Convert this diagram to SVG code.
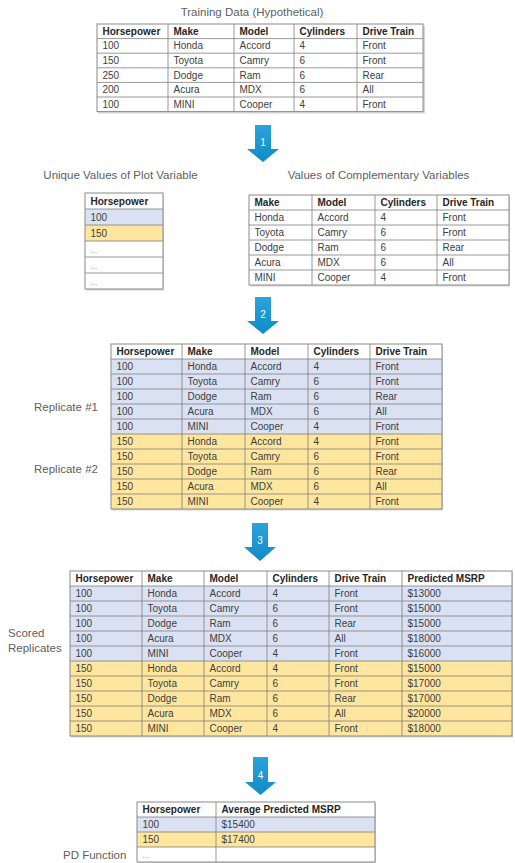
<svg xmlns="http://www.w3.org/2000/svg" width="515" height="863" viewBox="0 0 515 863">
<defs>
<linearGradient id="ag" x1="0" y1="0" x2="0" y2="1">
<stop offset="0" stop-color="#2ba3db"/>
<stop offset="1" stop-color="#0f8bc6"/>
</linearGradient>
</defs>
<style>
text{font-family:"Liberation Sans",Arial,sans-serif}
.t{font-size:11.5px;fill:#606060}
.h{font-size:10px;font-weight:bold;fill:#262626}
.c{font-size:10px;fill:#404040}
.d{font-size:8px;fill:#808080}
.n{font-size:10px;fill:#ffffff;text-anchor:middle}
.bl{fill:#d9e1f2}
.ye{fill:#fee69e}
.wh{fill:#ffffff}
.g{stroke:#7f7f7f;stroke-width:0.8;fill:none}
.o{stroke:#8a8a8a;stroke-width:1;fill:none}
.sh{fill:#d4d4d4}
.ar{fill:url(#ag)}
</style>
<rect width="515" height="863" fill="#ffffff"/>

<g id="training-data">
<text class="t" x="252" y="16" text-anchor="middle">Training Data (Hypothetical)</text>
<rect class="sh" x="98" y="25.5" width="327" height="88"/>
<rect class="wh" x="97" y="24" width="326" height="87.6"/>
<path class="g" d="M97 38.6H423M97 53.2H423M97 67.8H423M97 82.4H423M97 97H423M168 24V111.6M234 24V111.6M294 24V111.6M357 24V111.6"/>
<rect class="o" x="97" y="24" width="326" height="87.6"/>
<text class="h" x="102.5" y="34.8">Horsepower</text><text class="h" x="173.5" y="34.8">Make</text><text class="h" x="239.5" y="34.8">Model</text><text class="h" x="299.5" y="34.8">Cylinders</text><text class="h" x="362.5" y="34.8">Drive Train</text>
<text class="c" x="102.5" y="49.4">100</text><text class="c" x="173.5" y="49.4">Honda</text><text class="c" x="239.5" y="49.4">Accord</text><text class="c" x="299.5" y="49.4">4</text><text class="c" x="362.5" y="49.4">Front</text>
<text class="c" x="102.5" y="64">150</text><text class="c" x="173.5" y="64">Toyota</text><text class="c" x="239.5" y="64">Camry</text><text class="c" x="299.5" y="64">6</text><text class="c" x="362.5" y="64">Front</text>
<text class="c" x="102.5" y="78.6">250</text><text class="c" x="173.5" y="78.6">Dodge</text><text class="c" x="239.5" y="78.6">Ram</text><text class="c" x="299.5" y="78.6">6</text><text class="c" x="362.5" y="78.6">Rear</text>
<text class="c" x="102.5" y="93.2">200</text><text class="c" x="173.5" y="93.2">Acura</text><text class="c" x="239.5" y="93.2">MDX</text><text class="c" x="299.5" y="93.2">6</text><text class="c" x="362.5" y="93.2">All</text>
<text class="c" x="102.5" y="107.8">100</text><text class="c" x="173.5" y="107.8">MINI</text><text class="c" x="239.5" y="107.8">Cooper</text><text class="c" x="299.5" y="107.8">4</text><text class="c" x="362.5" y="107.8">Front</text>
</g>

<g id="unique-values">
<text class="t" x="120.5" y="179" text-anchor="middle">Unique Values of Plot Variable</text>
<rect class="sh" x="86" y="194.5" width="78" height="96"/>
<rect class="wh" x="85" y="193" width="78" height="96"/>
<rect class="bl" x="85" y="209" width="78" height="16"/>
<rect class="ye" x="85" y="225" width="78" height="16"/>
<path class="g" d="M85 209H163M85 225H163M85 241H163M85 257H163M85 273H163"/>
<rect class="o" x="85" y="193" width="78" height="96"/>
<text class="h" x="90.5" y="204.5">Horsepower</text>
<text class="c" x="90.5" y="220.5">100</text>
<text class="c" x="90.5" y="236.5">150</text>
<text class="d" x="90.5" y="252.5">...</text>
<text class="d" x="90.5" y="268.5">...</text>
<text class="d" x="90.5" y="284.5">...</text>
</g>

<g id="complementary-values">
<text class="t" x="378.5" y="179" text-anchor="middle">Values of Complementary Variables</text>
<rect class="sh" x="250" y="196.5" width="260" height="90"/>
<rect class="wh" x="249" y="195" width="260" height="90"/>
<path class="g" d="M249 210H509M249 225H509M249 240H509M249 255H509M249 270H509M312 195V285M375 195V285M437 195V285"/>
<rect class="o" x="249" y="195" width="260" height="90"/>
<text class="h" x="254.5" y="206">Make</text><text class="h" x="317.5" y="206">Model</text><text class="h" x="380.5" y="206">Cylinders</text><text class="h" x="442.5" y="206">Drive Train</text>
<text class="c" x="254.5" y="221">Honda</text><text class="c" x="317.5" y="221">Accord</text><text class="c" x="380.5" y="221">4</text><text class="c" x="442.5" y="221">Front</text>
<text class="c" x="254.5" y="236">Toyota</text><text class="c" x="317.5" y="236">Camry</text><text class="c" x="380.5" y="236">6</text><text class="c" x="442.5" y="236">Front</text>
<text class="c" x="254.5" y="251">Dodge</text><text class="c" x="317.5" y="251">Ram</text><text class="c" x="380.5" y="251">6</text><text class="c" x="442.5" y="251">Rear</text>
<text class="c" x="254.5" y="266">Acura</text><text class="c" x="317.5" y="266">MDX</text><text class="c" x="380.5" y="266">6</text><text class="c" x="442.5" y="266">All</text>
<text class="c" x="254.5" y="281">MINI</text><text class="c" x="317.5" y="281">Cooper</text><text class="c" x="380.5" y="281">4</text><text class="c" x="442.5" y="281">Front</text>
</g>

<g id="replicates">
<text class="t" x="34" y="410.5">Replicate #1</text>
<text class="t" x="34" y="473">Replicate #2</text>
<rect class="sh" x="112" y="345.5" width="331" height="165"/>
<rect class="wh" x="111" y="344" width="331" height="15"/>
<rect class="bl" x="111" y="359" width="331" height="75"/>
<rect class="ye" x="111" y="434" width="331" height="75"/>
<path class="g" d="M111 359H442M111 374H442M111 389H442M111 404H442M111 419H442M111 434H442M111 449H442M111 464H442M111 479H442M111 494H442M182 344V509M245 344V509M308 344V509M370 344V509"/>
<rect class="o" x="111" y="344" width="331" height="165"/>
<text class="h" x="116.5" y="355">Horsepower</text><text class="h" x="187.5" y="355">Make</text><text class="h" x="250.5" y="355">Model</text><text class="h" x="313.5" y="355">Cylinders</text><text class="h" x="375.5" y="355">Drive Train</text>
<text class="c" x="116.5" y="370">100</text><text class="c" x="187.5" y="370">Honda</text><text class="c" x="250.5" y="370">Accord</text><text class="c" x="313.5" y="370">4</text><text class="c" x="375.5" y="370">Front</text>
<text class="c" x="116.5" y="385">100</text><text class="c" x="187.5" y="385">Toyota</text><text class="c" x="250.5" y="385">Camry</text><text class="c" x="313.5" y="385">6</text><text class="c" x="375.5" y="385">Front</text>
<text class="c" x="116.5" y="400">100</text><text class="c" x="187.5" y="400">Dodge</text><text class="c" x="250.5" y="400">Ram</text><text class="c" x="313.5" y="400">6</text><text class="c" x="375.5" y="400">Rear</text>
<text class="c" x="116.5" y="415">100</text><text class="c" x="187.5" y="415">Acura</text><text class="c" x="250.5" y="415">MDX</text><text class="c" x="313.5" y="415">6</text><text class="c" x="375.5" y="415">All</text>
<text class="c" x="116.5" y="430">100</text><text class="c" x="187.5" y="430">MINI</text><text class="c" x="250.5" y="430">Cooper</text><text class="c" x="313.5" y="430">4</text><text class="c" x="375.5" y="430">Front</text>
<text class="c" x="116.5" y="445">150</text><text class="c" x="187.5" y="445">Honda</text><text class="c" x="250.5" y="445">Accord</text><text class="c" x="313.5" y="445">4</text><text class="c" x="375.5" y="445">Front</text>
<text class="c" x="116.5" y="460">150</text><text class="c" x="187.5" y="460">Toyota</text><text class="c" x="250.5" y="460">Camry</text><text class="c" x="313.5" y="460">6</text><text class="c" x="375.5" y="460">Front</text>
<text class="c" x="116.5" y="475">150</text><text class="c" x="187.5" y="475">Dodge</text><text class="c" x="250.5" y="475">Ram</text><text class="c" x="313.5" y="475">6</text><text class="c" x="375.5" y="475">Rear</text>
<text class="c" x="116.5" y="490">150</text><text class="c" x="187.5" y="490">Acura</text><text class="c" x="250.5" y="490">MDX</text><text class="c" x="313.5" y="490">6</text><text class="c" x="375.5" y="490">All</text>
<text class="c" x="116.5" y="505">150</text><text class="c" x="187.5" y="505">MINI</text><text class="c" x="250.5" y="505">Cooper</text><text class="c" x="313.5" y="505">4</text><text class="c" x="375.5" y="505">Front</text>
</g>

<g id="scored-replicates">
<text class="t" x="8" y="637">Scored</text>
<text class="t" x="8" y="652">Replicates</text>
<rect class="sh" x="71" y="572.5" width="442" height="165"/>
<rect class="wh" x="70" y="571" width="442" height="15"/>
<rect class="bl" x="70" y="586" width="442" height="75"/>
<rect class="ye" x="70" y="661" width="442" height="75"/>
<path class="g" d="M70 586H512M70 601H512M70 616H512M70 631H512M70 646H512M70 661H512M70 676H512M70 691H512M70 706H512M70 721H512M142 571V736M204 571V736M267 571V736M329 571V736M402 571V736"/>
<rect class="o" x="70" y="571" width="442" height="165"/>
<text class="h" x="75.5" y="582">Horsepower</text><text class="h" x="147.5" y="582">Make</text><text class="h" x="209.5" y="582">Model</text><text class="h" x="272.5" y="582">Cylinders</text><text class="h" x="334.5" y="582">Drive Train</text><text class="h" x="407.5" y="582">Predicted MSRP</text>
<text class="c" x="75.5" y="597">100</text><text class="c" x="147.5" y="597">Honda</text><text class="c" x="209.5" y="597">Accord</text><text class="c" x="272.5" y="597">4</text><text class="c" x="334.5" y="597">Front</text><text class="c" x="407.5" y="597">$13000</text>
<text class="c" x="75.5" y="612">100</text><text class="c" x="147.5" y="612">Toyota</text><text class="c" x="209.5" y="612">Camry</text><text class="c" x="272.5" y="612">6</text><text class="c" x="334.5" y="612">Front</text><text class="c" x="407.5" y="612">$15000</text>
<text class="c" x="75.5" y="627">100</text><text class="c" x="147.5" y="627">Dodge</text><text class="c" x="209.5" y="627">Ram</text><text class="c" x="272.5" y="627">6</text><text class="c" x="334.5" y="627">Rear</text><text class="c" x="407.5" y="627">$15000</text>
<text class="c" x="75.5" y="642">100</text><text class="c" x="147.5" y="642">Acura</text><text class="c" x="209.5" y="642">MDX</text><text class="c" x="272.5" y="642">6</text><text class="c" x="334.5" y="642">All</text><text class="c" x="407.5" y="642">$18000</text>
<text class="c" x="75.5" y="657">100</text><text class="c" x="147.5" y="657">MINI</text><text class="c" x="209.5" y="657">Cooper</text><text class="c" x="272.5" y="657">4</text><text class="c" x="334.5" y="657">Front</text><text class="c" x="407.5" y="657">$16000</text>
<text class="c" x="75.5" y="672">150</text><text class="c" x="147.5" y="672">Honda</text><text class="c" x="209.5" y="672">Accord</text><text class="c" x="272.5" y="672">4</text><text class="c" x="334.5" y="672">Front</text><text class="c" x="407.5" y="672">$15000</text>
<text class="c" x="75.5" y="687">150</text><text class="c" x="147.5" y="687">Toyota</text><text class="c" x="209.5" y="687">Camry</text><text class="c" x="272.5" y="687">6</text><text class="c" x="334.5" y="687">Front</text><text class="c" x="407.5" y="687">$17000</text>
<text class="c" x="75.5" y="702">150</text><text class="c" x="147.5" y="702">Dodge</text><text class="c" x="209.5" y="702">Ram</text><text class="c" x="272.5" y="702">6</text><text class="c" x="334.5" y="702">Rear</text><text class="c" x="407.5" y="702">$17000</text>
<text class="c" x="75.5" y="717">150</text><text class="c" x="147.5" y="717">Acura</text><text class="c" x="209.5" y="717">MDX</text><text class="c" x="272.5" y="717">6</text><text class="c" x="334.5" y="717">All</text><text class="c" x="407.5" y="717">$20000</text>
<text class="c" x="75.5" y="732">150</text><text class="c" x="147.5" y="732">MINI</text><text class="c" x="209.5" y="732">Cooper</text><text class="c" x="272.5" y="732">4</text><text class="c" x="334.5" y="732">Front</text><text class="c" x="407.5" y="732">$18000</text>
</g>

<g id="pd-function">
<text class="t" x="63" y="859">PD Function</text>
<rect class="sh" x="138" y="803.5" width="238" height="60"/>
<rect class="wh" x="137" y="802" width="238" height="60"/>
<rect class="bl" x="137" y="817" width="238" height="15"/>
<rect class="ye" x="137" y="832" width="238" height="15"/>
<path class="g" d="M137 817H375M137 832H375M137 847H375M216 802V862"/>
<rect class="o" x="137" y="802" width="238" height="60"/>
<text class="h" x="142.5" y="813">Horsepower</text><text class="h" x="221.5" y="813">Average Predicted MSRP</text>
<text class="c" x="142.5" y="828">100</text><text class="c" x="221.5" y="828">$15400</text>
<text class="c" x="142.5" y="843">150</text><text class="c" x="221.5" y="843">$17400</text>
<text class="d" x="142.5" y="858">...</text>
</g>

<g id="connectors">
<polygon class="ar" points="255,125 271,125 271,149 279,149 263,162 247,149 255,149"/>
<text class="n" x="263" y="146">1</text>
<polygon class="ar" points="255,297 271,297 271,321 279,321 263,334 247,321 255,321"/>
<text class="n" x="263" y="318">2</text>
<polygon class="ar" points="252,523 268,523 268,547 276,547 260,561 244,547 252,547"/>
<text class="n" x="260" y="544">3</text>
<polygon class="ar" points="253,757 268,757 268,782 276,782 260.5,795 245,782 253,782"/>
<text class="n" x="260.5" y="779">4</text>
</g>
</svg>
